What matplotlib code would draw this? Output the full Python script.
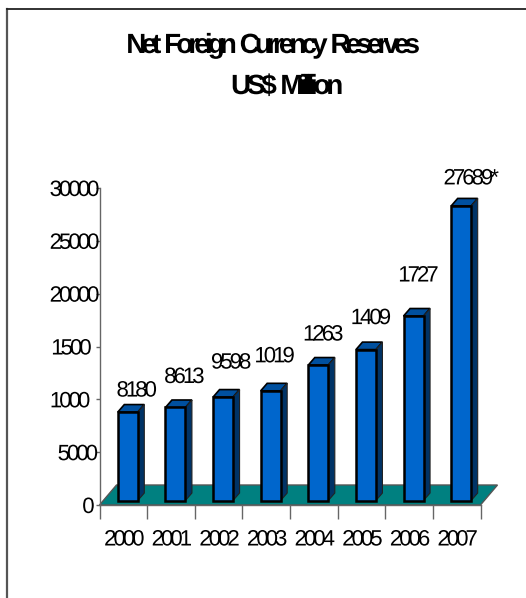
import matplotlib

matplotlib.use("Agg")
import numpy as np
from matplotlib import pyplot as plt
from matplotlib.lines import Line2D
from matplotlib.patches import Polygon
from matplotlib.path import Path
from matplotlib.patheffects import AbstractPathEffect
from matplotlib.transforms import Affine2D

years = ["2000", "2001", "2002", "2003", "2004", "2005", "2006", "2007"]
reserves = [8180, 8613, 9598, 10190, 12630, 14090, 17270, 27689]
bar_labels = ["8180", "8613", "9598", "1019", "1263", "1409", "1727", "27689*"]
y_ticks = [0, 5000, 10000, 15000, 20000, 25000, 30000]
y_tick_labels = ["0", "5000", "1000", "1500", "20000", "25000", "30000"]
title_lines = ["Net Foreign Currency Reserves", "US$ Million"]

# label placement, in pixels
label_dx = [9, 9, 8, 4, 5, 5, 5, 10]
label_dy = [21, 30, 34, 34, 30, 31, 40, 27]
y_label_pad = [0.5, -2, 3.5, 2.5, -3, -3, -3]

W, H = 526, 598
FRONT = "#0066cc"
TOP = "#00509f"
SIDE = "#003366"
FLOOR = "#008080"


class Tight(AbstractPathEffect):
    """Pull the glyphs of a text together so they overlap, like the old export"""

    def __init__(self, track, anchor="center"):
        super().__init__()
        self.track = track * 100  # text paths are 100 units to the em
        self.anchor = anchor

    def draw_path(self, renderer, gc, tpath, affine, rgbFace=None):
        verts = tpath.vertices.copy()
        starts = np.where(tpath.codes == Path.MOVETO)[0]
        ends = list(starts[1:]) + [len(verts)]
        # contours that overlap in x belong to one glyph
        glyph = -1
        right = -np.inf
        for s, e in zip(starts, ends):
            x0 = verts[s:e, 0].min()
            x1 = verts[s:e, 0].max()
            if x0 >= right:
                glyph += 1
                right = x1
            else:
                right = max(right, x1)
            verts[s:e, 0] -= glyph * self.track
        path = Path(verts, tpath.codes)

        # put the text back where its anchor was
        old = tpath.transformed(affine).get_extents()
        new = path.transformed(affine).get_extents()
        if self.anchor == "right":
            move = old.x1 - new.x1
        else:
            move = (old.x0 + old.x1 - new.x0 - new.x1) / 2
        renderer.draw_path(gc, path, affine + Affine2D().translate(move, 0), rgbFace)


plt.rcParams["font.family"] = ["Liberation Sans", "DejaVu Sans"]

fig = plt.figure(figsize=(W / 100, H / 100), dpi=100)
ax = fig.add_axes([99.5 / W, 1 - 505 / H, 381 / W, 317 / H])
ax.set_xlim(0, len(years))
ax.set_ylim(0, 30000)
ax.patch.set_visible(False)

per_x = 381 / len(years)
per_y = 317 / 30000


def px(dx, dy):
    return dx / per_x, dy / per_y


# outer frame, only left and top are visible
fig.add_artist(Line2D([6.5 / W, 6.5 / W], [0, 1 - 9 / H], color="#555555", lw=1.6))
fig.add_artist(Line2D([6.5 / W, 1], [1 - 9 / H, 1 - 9 / H], color="#222222", lw=1.3))

# floor of the 3D plot
fx, fy = px(17, 20)
ax.add_patch(
    Polygon(
        [(0, 0), (len(years), 0), (len(years) + fx, fy), (fx, fy)],
        closed=True,
        facecolor=FLOOR,
        edgecolor="#555555",
        lw=1,
        clip_on=False,
        zorder=1,
    )
)

# bars
lift = px(0, 4.5)[1]
shift = px(4.5, 0)[0]
width = px(20, 0)[0]
dx, dy = px(6.5, 7.5)
for i, value in enumerate(reserves):
    left = i + 0.5 + shift - width / 2
    right = left + width
    top = value + lift + px(0, 2)[1]
    ax.add_patch(
        Polygon(
            [(left, top), (right, top), (right + dx, top + dy), (left + dx, top + dy)],
            facecolor=TOP,
            edgecolor="black",
            lw=1.2,
            clip_on=False,
            zorder=2,
        )
    )
    ax.add_patch(
        Polygon(
            [(right, lift), (right + dx, lift + dy), (right + dx, top + dy), (right, top)],
            facecolor=SIDE,
            edgecolor="#222222",
            lw=0.8,
            clip_on=False,
            zorder=2,
        )
    )
    ax.bar(
        left,
        top - lift,
        width=width,
        bottom=lift,
        align="edge",
        facecolor=FRONT,
        edgecolor="black",
        lw=1.8,
        zorder=3,
    )
    t = ax.annotate(
        bar_labels[i],
        xy=((left + right) / 2, top),
        xytext=(label_dx[i], label_dy[i]),
        textcoords="offset pixels",
        ha="center",
        va="center",
        fontsize=16,
        color="black",
        annotation_clip=False,
        zorder=5,
    )
    t.set_path_effects([Tight(0.135)])

# axes
for side in ["top", "right"]:
    ax.spines[side].set_visible(False)
for side in ["left", "bottom"]:
    ax.spines[side].set_color("#666666")
    ax.spines[side].set_linewidth(1)
    ax.spines[side].set_zorder(2)

ax.set_yticks(y_ticks)
ax.set_yticklabels(y_tick_labels, fontsize=16)
ax.tick_params(axis="y", length=3, width=1, color="#666666")
for tick, pad in zip(ax.yaxis.get_major_ticks(), y_label_pad):
    tick.set_pad(pad)
for label in ax.get_yticklabels():
    label.set_path_effects([Tight(0.135, "right")])

ax.set_xticks(range(len(years) + 1))
ax.set_xticklabels([])
ax.tick_params(axis="x", length=10, width=1, color="#666666")
for i, year in enumerate(years):
    t = ax.annotate(
        year,
        xy=(i + 0.5, 0),
        xytext=(1, -35),
        textcoords="offset pixels",
        ha="center",
        va="center",
        fontsize=16,
        annotation_clip=False,
    )
    t.set_path_effects([Tight(0.135)])

# title, two lines
for line, cx, cy, track in zip(title_lines, [273, 287], [46, 87], [0.175, 0.15]):
    t = fig.text(
        cx / W,
        1 - cy / H,
        line,
        ha="center",
        va="center",
        fontsize=20,
        fontweight="bold",
    )
    t.set_path_effects([Tight(track)])

fig.savefig("out.png", dpi=100)
